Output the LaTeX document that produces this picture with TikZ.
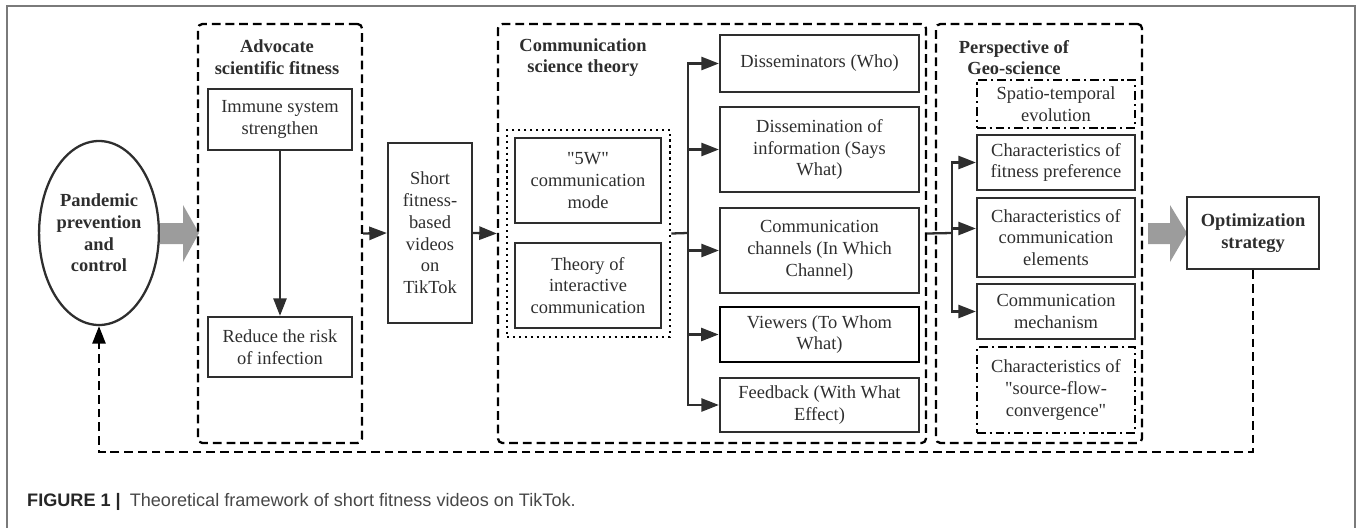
\documentclass[tikz,border=0pt]{standalone}
\usepackage{fontspec}
\setmainfont{Liberation Serif}
\setsansfont{Liberation Sans}
\usetikzlibrary{arrows.meta,shapes.geometric}
\newdimen\pxu
\pxu=0.02cm
\definecolor{ink}{HTML}{2E2E2E}
\definecolor{fatgray}{HTML}{9C9C9C}
\definecolor{framegray}{HTML}{7A7A7A}

\begin{document}
\begin{tikzpicture}[x=0.02cm,y=-0.02cm,
  every node/.style={font=\fontsize{10.5}{12.4}\selectfont,text=ink},
  box/.style={draw=ink,line width=1.3pt,align=center,inner sep=0pt},
  grp/.style={draw=black,line width=1.3pt,rounded corners=2.5pt,dash pattern=on 5pt off 2.8pt,inner sep=0pt},
  dotgrp/.style={draw=black,line width=1.5pt,dash pattern=on 1.2pt off 2.2pt,inner sep=0pt},
  dashdotbox/.style={box,draw=black,dash pattern=on 5pt off 2.2pt on 1.2pt off 2.2pt},
  title/.style={font=\fontsize{10.5}{12.4}\selectfont\bfseries,align=center},
  arr/.style={draw=ink,line width=1.3pt,-{Triangle[length=10pt,width=7.5pt]}},
  fb/.style={draw=black,line width=1.3pt,dash pattern=on 5pt off 2.8pt},
  fat/.style={fill=fatgray}]
\useasboundingbox (0,0) rectangle (1358,527);
\draw[framegray,line width=0.8pt] (7,540)--(7,6)--(1355,6)--(1355,540);

% left part
\node[ellipse,draw=ink,line width=1.3pt,minimum width=112\pxu,minimum height=184\pxu,inner sep=0pt,align=center,font=\fontsize{10.5}{12.4}\selectfont\bfseries] (pandemic) at (99,233) {Pandemic\\prevention\\and\\control};
\fill[fat] (160,223)--(183,223)--(183,205)--(199,233)--(183,262)--(183,244)--(160,244)--cycle;

\node[grp,minimum width=164\pxu,minimum height=419\pxu] (advocate) at (280,233.5) {};
\node[title] (advocatetitle) at (277,57.5) {Advocate\\scientific fitness};
\node[box,minimum width=144\pxu,minimum height=61\pxu] (immune) at (280,119.5) {Immune system\\strengthen};
\node[box,minimum width=144\pxu,minimum height=60\pxu] (reduce) at (280,347) {Reduce the risk\\of infection};
\draw[arr] (immune) -- (reduce);

\node[box,minimum width=84\pxu,minimum height=180\pxu] (videos) at (430,233) {Short\\fitness-\\based\\videos\\on\\TikTok};
\draw[arr] (advocate.east) -- (videos.west);

% communication science
\node[grp,minimum width=428\pxu,minimum height=419\pxu] (comm) at (712,233.5) {};
\node[title] (commtitle) at (583,57.5) {Communication\\science theory};
\draw[arr] (videos.east) -- (comm.west);
\node[dotgrp,minimum width=163\pxu,minimum height=207\pxu] (theory) at (588.5,233.5) {};
\node[box,minimum width=146\pxu,minimum height=85\pxu] (mode5w) at (588,180.5) {\textquotedbl 5W\textquotedbl\\communication\\mode};
\node[box,minimum width=146\pxu,minimum height=85\pxu] (interactive) at (588,285.5) {Theory of\\interactive\\communication};

\node[box,minimum width=199\pxu,minimum height=57\pxu] (who) at (819.5,63.5) {Disseminators (Who)};
\node[box,minimum width=199\pxu,minimum height=85\pxu] (what) at (819.5,149.5) {Dissemination of\\information (Says\\What)};
\node[box,minimum width=199\pxu,minimum height=85\pxu] (channel) at (819.5,250.5) {Communication\\channels (In Which\\Channel)};
\node[box,draw=black,line width=1.6pt,minimum width=199\pxu,minimum height=55\pxu] (whom) at (819.5,334.5) {Viewers (To Whom\\What)};
\node[box,minimum width=199\pxu,minimum height=54\pxu] (effect) at (819.5,405) {Feedback (With What\\Effect)};

\coordinate (split1) at (688,233);
\draw[ink,line width=1.3pt] (theory.east) -- (split1);
\foreach \t in {who,what,channel,whom,effect}
  \draw[arr] (split1) |- (\t.west);

% geo-science
\node[grp,minimum width=206\pxu,minimum height=419\pxu] (geo) at (1039,233.5) {};
\node[title] (geotitle) at (1014,57.5) {Perspective of\\Geo-science};
\node[dashdotbox,minimum width=158\pxu,minimum height=48\pxu] (spatio) at (1056,104) {Spatio-temporal\\evolution};
\node[box,minimum width=158\pxu,minimum height=55\pxu] (preference) at (1056,162.5) {Characteristics of\\fitness preference};
\node[box,minimum width=158\pxu,minimum height=79\pxu] (elements) at (1056,237.5) {Characteristics of\\communication\\elements};
\node[box,minimum width=158\pxu,minimum height=55\pxu] (mechanism) at (1056,311.5) {Communication\\mechanism};
\node[dashdotbox,minimum width=158\pxu,minimum height=86\pxu] (convergence) at (1056,390) {Characteristics of\\\textquotedbl source-flow-\\convergence\textquotedbl};

\coordinate (split2) at (952,233);
\draw[ink,line width=1.3pt] (comm.east) -- (split2);
\draw[arr] (split2) |- (preference.west);
\draw[arr] (split2) |- ([yshift=9\pxu]elements.west);
\draw[arr] (split2) |- (mechanism.west);

% strategy and feedback loop
\fill[fat] (1148,223)--(1170,223)--(1170,205)--(1187,233)--(1170,262)--(1170,244)--(1148,244)--cycle;
\node[box,minimum width=132\pxu,minimum height=72\pxu,font=\fontsize{10.5}{12.4}\selectfont\bfseries] (strategy) at (1253,233) {Optimization\\strategy};
\coordinate (loopR) at (1253,452);
\coordinate (loopL) at (99,452);
\draw[fb,-{Triangle[length=10pt,width=7.5pt]}] (strategy.south) -- (loopR) -- (loopL) -- (pandemic.south);

\node[anchor=west,font=\sffamily\fontsize{10.3}{12}\selectfont,text=black!72] (caption) at (21,502) {\textbf{\color{black!85}FIGURE 1 |}\enspace Theoretical framework of short fitness videos on TikTok.};
\end{tikzpicture}
\end{document}
